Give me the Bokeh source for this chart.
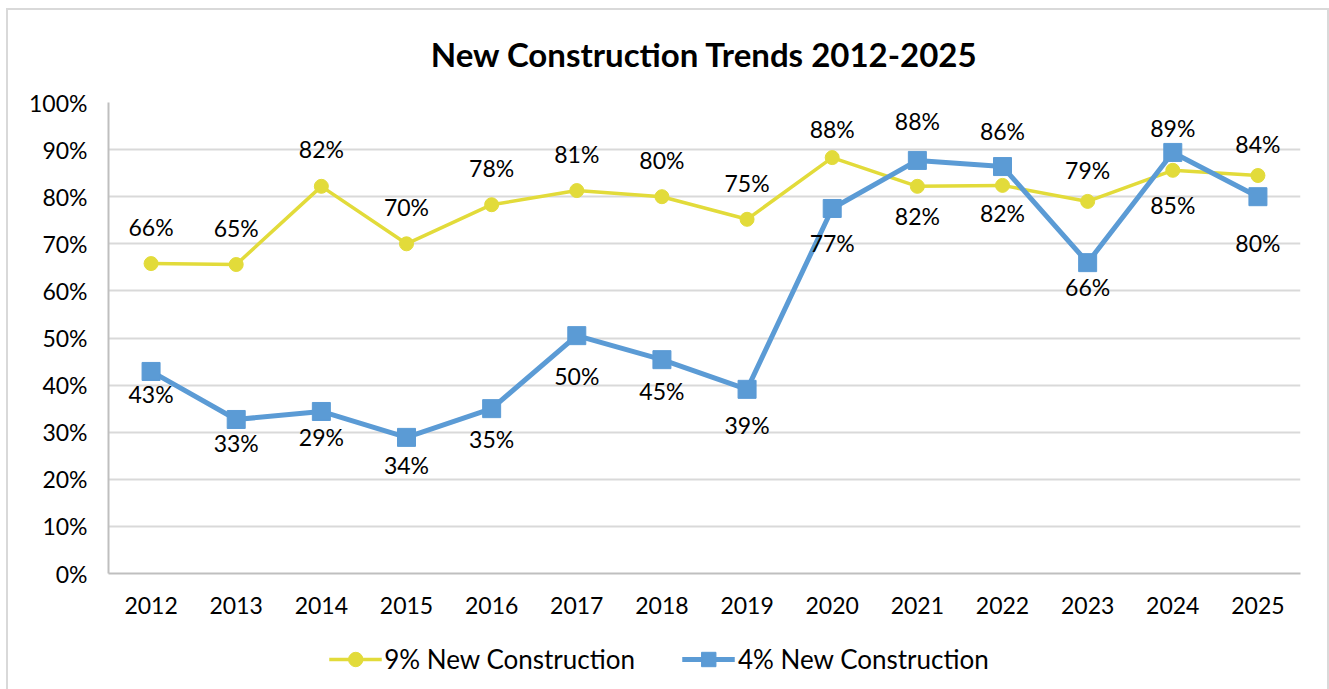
from bokeh.plotting import figure
from bokeh.layouts import column
from bokeh.models import (ColumnDataSource, FactorRange, Range1d, PrintfTickFormatter,
                          Legend, LegendItem, FixedTicker)
from bokeh.core.properties import value
from bokeh.embed import file_html
from bokeh.resources import INLINE

years = ["2012", "2013", "2014", "2015", "2016", "2017", "2018",
         "2019", "2020", "2021", "2022", "2023", "2024", "2025"]
nine_pct = [65.8, 65.6, 82.2, 70.0, 78.3, 81.3, 80.0, 75.2, 88.3, 82.2, 82.4, 79.0, 85.6, 84.5]
four_pct = [42.9, 32.7, 34.4, 28.9, 35.0, 50.5, 45.4, 39.1, 77.5, 87.7, 86.4, 66.0, 89.4, 80.0]
nine_labels = ["66%", "65%", "82%", "70%", "78%", "81%", "80%", "75%", "88%", "82%", "82%", "79%", "85%", "84%"]
four_labels = ["43%", "33%", "29%", "34%", "35%", "50%", "45%", "39%", "77%", "88%", "86%", "66%", "89%", "80%"]
series_names = ["9% New Construction", "4% New Construction"]
y_ticks = [0, 10, 20, 30, 40, 50, 60, 70, 80, 90, 100]

# label offsets in screen pixels (positive = above the point)
nine_off = [37, 37, 37, 37, 37, 37, 37, 36, 29, -30, -28, 31, -35, 32]
four_off = [-23, -24, -26, -28, -30, -40, -31, -36, -35, 39, 36, -24, 24, -46]

YELLOW = "#E2DB3A"
BLUE = "#5B9BD5"
FONT = "Lato"

TOP, FRAME_H, BOTTOM = 102, 471, 52

p = figure(x_range=FactorRange(*years, range_padding=0), y_range=Range1d(0, 100),
           frame_width=1192, frame_height=FRAME_H, output_backend="svg", toolbar_location=None,
           min_border_left=108, min_border_right=29, min_border_top=TOP, min_border_bottom=BOTTOM)

p.outline_line_color = None
p.background_fill_color = "white"
p.border_fill_alpha = 0

p.title.text = "New Construction Trends 2012-2025"
p.title.align = "center"
p.title.text_font = FONT
p.title.text_font_size = "33px"
p.title.text_font_style = "bold"
p.title.text_color = "black"
p.title.standoff = 57

p.xgrid.grid_line_color = None
p.ygrid.grid_line_color = "#d9d9d9"
p.ygrid.grid_line_width = 2
p.yaxis.ticker = FixedTicker(ticks=y_ticks)
p.yaxis.formatter = PrintfTickFormatter(format="%d%%")

for ax in (p.xaxis, p.yaxis):
    ax.axis_line_color = "#bfbfbf"
    ax.axis_line_width = 2
    ax.major_tick_line_color = None
    ax.minor_tick_line_color = None
    ax.major_tick_out = 0
    ax.major_tick_in = 0
    ax.major_label_text_font = FONT
    ax.major_label_text_font_size = "23px"
    ax.major_label_text_color = "black"
p.yaxis.major_label_standoff = 21
p.xaxis.major_label_standoff = 23

src9 = ColumnDataSource(dict(x=years, y=nine_pct, lab=nine_labels, off=[-o for o in nine_off]))
src4 = ColumnDataSource(dict(x=years, y=four_pct, lab=four_labels, off=[-o for o in four_off]))

p.line("x", "y", source=src9, line_color=YELLOW, line_width=3.5)
p.scatter("x", "y", source=src9, marker="circle", size=14, fill_color=YELLOW, line_color=YELLOW)
p.line("x", "y", source=src4, line_color=BLUE, line_width=5)
p.scatter("x", "y", source=src4, marker="square", size=18, fill_color=BLUE, line_color=BLUE)

for src in (src9, src4):
    p.text("x", "y", text="lab", source=src, y_offset="off",
           text_align="center", text_baseline="middle",
           text_font=value(FONT), text_font_size="23px", text_color="black")

# legend strip below the chart; it shares the data but its y-range keeps the lines out of view
lf = figure(width=1329, height=689 - (TOP + FRAME_H + BOTTOM), output_backend="svg", toolbar_location=None,
            x_range=p.x_range, y_range=Range1d(-300, -200),
            min_border_left=0, min_border_right=120, min_border_top=4, min_border_bottom=0)
lf.axis.visible = False
lf.grid.visible = False
lf.outline_line_color = None
lf.background_fill_alpha = 0
lf.border_fill_alpha = 0
d9l = lf.line("x", "y", source=src9, line_color=YELLOW, line_width=3.5)
d9m = lf.scatter("x", "y", source=src9, marker="circle", size=14, fill_color=YELLOW, line_color=YELLOW)
d4l = lf.line("x", "y", source=src4, line_color=BLUE, line_width=5)
d4m = lf.scatter("x", "y", source=src4, marker="square", size=18, fill_color=BLUE, line_color=BLUE)

legend = Legend(items=[LegendItem(label=series_names[0], renderers=[d9l, d9m]),
                       LegendItem(label=series_names[1], renderers=[d4l, d4m])],
                orientation="horizontal", location="center",
                glyph_width=53, glyph_height=36, label_standoff=3, spacing=47,
                label_text_font=FONT, label_text_font_size="26px", label_text_color="black",
                border_line_color=None, background_fill_alpha=0, margin=0, padding=0)
lf.add_layout(legend, "center")

G = "linear-gradient(#d9d9d9, #d9d9d9)"
page = column(p, lf, spacing=0, styles={
    "background-color": "white",
    "background-image": f"{G}, {G}, {G}",
    "background-position": "6px 8px, 6px 8px, 1327px 8px",
    "background-size": "2px 100%, 1322px 2px, 2px 100%",
    "background-repeat": "no-repeat",
})

open("out.html", "w").write(file_html(page, INLINE))
